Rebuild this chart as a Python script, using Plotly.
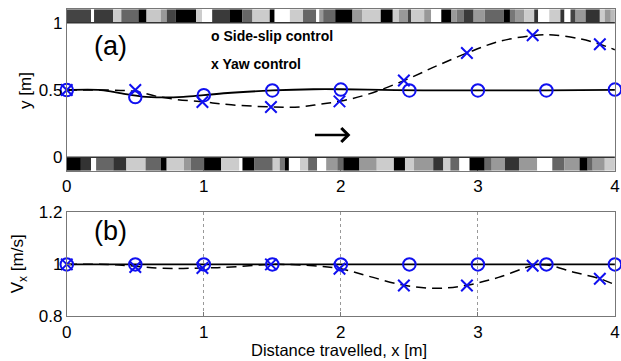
import plotly.graph_objects as go

# ---------------- data ----------------
# side-slip control (circles, solid)
ss_mark_x = [0, 0.5, 1.0, 1.5, 2.0, 2.5, 3.0, 3.5, 4.0]
ss_mark_y = [0.5, 0.448, 0.462, 0.497, 0.504, 0.497, 0.497, 0.497, 0.504]
ss_mark_vx = [1.0, 1.0, 1.0, 1.0, 1.0, 1.0, 1.0, 1.0, 1.0]
ss_line_x = [0, 0.25, 0.4, 0.55, 0.7, 0.85, 1.0, 1.2, 1.5, 1.8, 2.0, 2.3, 2.6, 3.0, 3.5, 4.0]
ss_line_y = [0.5, 0.5, 0.475, 0.452, 0.446, 0.45, 0.462, 0.48, 0.497, 0.506, 0.506, 0.501, 0.498, 0.497, 0.498, 0.502]
ss_line_vx_x = [0, 4.0]
ss_line_vx = [1.0, 1.0]

# yaw control (crosses, dashed)
yaw_mark_x = [0, 0.5, 0.99, 1.49, 1.99, 2.46, 2.92, 3.40, 3.89]
yaw_mark_y = [0.5, 0.5, 0.411, 0.374, 0.416, 0.571, 0.775, 0.907, 0.84]
yaw_mark_vx = [1.0, 0.99, 0.986, 1.0, 0.983, 0.919, 0.919, 0.995, 0.945]
yaw_line_x = [0, 0.3, 0.5, 0.65, 0.8, 1.0, 1.2, 1.5, 1.7, 1.85, 2.0, 2.2, 2.46, 2.7, 2.92, 3.15, 3.4, 3.55, 3.75, 3.89, 4.0]
yaw_line_y = [0.5, 0.5, 0.49, 0.455, 0.43, 0.412, 0.39, 0.375, 0.375, 0.395, 0.418, 0.47, 0.57, 0.68, 0.775, 0.86, 0.905, 0.91, 0.88, 0.84, 0.8]
yaw_vx_x = [0, 0.3, 0.5, 0.7, 1.0, 1.2, 1.5, 1.8, 2.0, 2.2, 2.46, 2.7, 2.92, 3.15, 3.4, 3.5, 3.7, 3.89, 4.0]
yaw_vx = [1.0, 1.0, 0.993, 0.985, 0.986, 0.99, 1.0, 0.995, 0.983, 0.955, 0.92, 0.908, 0.92, 0.95, 0.995, 0.998, 0.97, 0.945, 0.922]

# grey texture bands (segment edges in metres, grey levels)
top_edges = [0, 0.177, 0.199, 0.339, 0.398, 0.523, 0.582, 0.685, 0.729, 0.796, 0.943, 0.987, 1.061,
             1.186, 1.282, 1.355, 1.481, 1.517, 1.628, 1.724, 1.820, 1.842, 1.871, 1.959, 2.085,
             2.158, 2.291, 2.379, 2.424, 2.490, 2.512, 2.608, 2.659, 2.733, 2.807, 2.844, 2.895,
             2.969, 3.050, 3.190, 3.234, 3.271, 3.337, 3.411, 3.440, 3.521, 3.602, 3.632, 3.676,
             3.713, 3.786, 3.890, 3.926, 3.970, 4.0]
top_greys = ["#444", "#fff", "#3a3a3a", "#ccc", "#666", "#000", "#c8c8c8", "#999", "#444", "#000",
             "#ccc", "#fff", "#3a3a3a", "#000", "#666", "#ccc", "#000", "#fff", "#ccc", "#666",
             "#fff", "#999", "#666", "#000", "#999", "#ccc", "#000", "#ccc", "#999", "#444",
             "#ccc", "#999", "#fff", "#000", "#999", "#777", "#3a3a3a", "#999", "#666", "#000",
             "#777", "#999", "#ccc", "#333", "#fff", "#ccc", "#333", "#fff", "#444", "#999",
             "#333", "#ccc", "#999", "#bbb"]
bot_edges = [0, 0.103, 0.177, 0.214, 0.339, 0.435, 0.575, 0.685, 0.729, 0.855, 0.906, 1.002, 1.127,
             1.260, 1.282, 1.370, 1.503, 1.554, 1.591, 1.621, 1.702, 1.761, 1.827, 1.893, 1.974,
             2.018, 2.136, 2.262, 2.387, 2.468, 2.534, 2.674, 2.748, 2.799, 2.865, 2.939, 3.050,
             3.101, 3.197, 3.300, 3.433, 3.543, 3.632, 3.742, 3.801, 3.838, 3.926, 4.0]
bot_greys = ["#000", "#333", "#fff", "#666", "#333", "#ccc", "#666", "#000", "#ccc", "#999",
             "#666", "#000", "#ccc", "#fff", "#000", "#666", "#ccc", "#777", "#000", "#fff",
             "#ccc", "#666", "#fff", "#999", "#666", "#000", "#999", "#ccc", "#000", "#ccc",
             "#999", "#333", "#ccc", "#666", "#fff", "#000", "#666", "#999", "#333", "#999",
             "#fff", "#666", "#999", "#000", "#666", "#999", "#ccc"]

x_ticks = [0, 1, 2, 3, 4]
y_ticks_top = [0, 0.5, 1]
y_ticks_bot = [0.8, 1, 1.2]

# ---------------- figure ----------------
# The page shows the figure behind an 8 px page margin and is then fitted to the
# 621x361 window; the figure is sized so that the fitted picture fills the window.
PAD = 8
KX, KY = 621 / 637, 361 / 377
W, H = 637 - PAD, 377 - PAD


def px(xp):   # target picture pixel -> paper x
    return (xp / KX - PAD) / W


def py(yp):   # target picture pixel -> paper y
    return 1 - (yp / KY - PAD) / H


BLUE = "#1010f0"
FONT = "Liberation Sans, Arial, sans-serif"
TF = 17
DASH = "10px,6px"

fig = go.Figure()

# panel (a)
fig.add_trace(go.Scatter(x=ss_line_x, y=ss_line_y, mode="lines", line=dict(color="black", width=1.8, shape="spline"),
                         xaxis="x", yaxis="y", showlegend=False))
fig.add_trace(go.Scatter(x=yaw_line_x, y=yaw_line_y, mode="lines",
                         line=dict(color="black", width=1.5, dash=DASH, shape="spline"),
                         xaxis="x", yaxis="y", showlegend=False))
fig.add_trace(go.Scatter(x=ss_mark_x, y=ss_mark_y, mode="markers",
                         marker=dict(symbol="circle-open", size=12.5, color=BLUE, line=dict(width=2, color=BLUE)),
                         xaxis="x", yaxis="y", showlegend=False, cliponaxis=False))
fig.add_trace(go.Scatter(x=yaw_mark_x, y=yaw_mark_y, mode="markers",
                         marker=dict(symbol="x-thin-open", size=11.5, color=BLUE, line=dict(width=2, color=BLUE)),
                         xaxis="x", yaxis="y", showlegend=False, cliponaxis=False))

# panel (b)
fig.add_trace(go.Scatter(x=ss_line_vx_x, y=ss_line_vx, mode="lines", line=dict(color="black", width=1.8),
                         xaxis="x2", yaxis="y2", showlegend=False))
fig.add_trace(go.Scatter(x=yaw_vx_x, y=yaw_vx, mode="lines",
                         line=dict(color="black", width=1.5, dash=DASH, shape="spline"),
                         xaxis="x2", yaxis="y2", showlegend=False))
fig.add_trace(go.Scatter(x=ss_mark_x, y=ss_mark_vx, mode="markers",
                         marker=dict(symbol="circle-open", size=12.5, color=BLUE, line=dict(width=2, color=BLUE)),
                         xaxis="x2", yaxis="y2", showlegend=False, cliponaxis=False))
fig.add_trace(go.Scatter(x=yaw_mark_x, y=yaw_mark_vx, mode="markers",
                         marker=dict(symbol="x-thin-open", size=11.5, color=BLUE, line=dict(width=2, color=BLUE)),
                         xaxis="x2", yaxis="y2", showlegend=False, cliponaxis=False))

shapes = []
for i, g in enumerate(top_greys):
    shapes.append(dict(type="rect", xref="x", yref="y", x0=top_edges[i], x1=top_edges[i + 1],
                       y0=1.0, y1=1.1, fillcolor=g, line=dict(width=0), layer="above"))
for i, g in enumerate(bot_greys):
    shapes.append(dict(type="rect", xref="x", yref="y", x0=bot_edges[i], x1=bot_edges[i + 1],
                       y0=-0.1, y1=0.0, fillcolor=g, line=dict(width=0), layer="above"))
shapes.append(dict(type="line", xref="x", yref="y", x0=0, x1=4, y0=1.0, y1=1.0,
                   line=dict(color="#333", width=1.5), layer="above"))
shapes.append(dict(type="line", xref="x", yref="y", x0=0, x1=4, y0=0.0, y1=0.0,
                   line=dict(color="#333", width=1.5), layer="above"))

annotations = [
    dict(x=0.32, y=0.83, xref="x", yref="y", text="(a)", showarrow=False,
         xanchor="center", yanchor="middle", font=dict(size=27, family=FONT, color="black")),
    dict(x=0.32, y=1.128, xref="x2", yref="y2", text="(b)", showarrow=False,
         xanchor="center", yanchor="middle", font=dict(size=27, family=FONT, color="black")),
    dict(x=1.04, y=0.905, xref="x", yref="y", text="<b>o Side-slip control</b>", showarrow=False,
         xanchor="left", yanchor="middle", font=dict(size=14, family=FONT, color="black")),
    dict(x=1.04, y=0.695, xref="x", yref="y", text="<b>x Yaw control</b>", showarrow=False,
         xanchor="left", yanchor="middle", font=dict(size=14, family=FONT, color="black")),
    dict(x=2.07, y=0.166, ax=1.8, ay=0.166, xref="x", yref="y", axref="x", ayref="y", text="",
         showarrow=True, arrowhead=4, arrowsize=1.0, arrowwidth=2.7, arrowcolor="black"),
    # axis titles
    dict(x=px(28), y=py(90), xref="paper", yref="paper", text="y [m]", textangle=-90, showarrow=False,
         xanchor="center", yanchor="middle", font=dict(size=TF, family=FONT, color="black")),
    dict(x=px(22), y=py(265), xref="paper", yref="paper", text="V<sub>x</sub> [m/s]", textangle=-90,
         showarrow=False, xanchor="center", yanchor="middle", font=dict(size=TF, family=FONT, color="black")),
    dict(x=px(339), y=py(352), xref="paper", yref="paper", text="Distance travelled, x [m]",
         showarrow=False, xanchor="center", yanchor="middle", font=dict(size=16.5, family=FONT, color="black")),
]

axis_common = dict(range=[0, 4], tickvals=x_ticks, showgrid=False, zeroline=False,
                   showline=True, linecolor="#777", linewidth=1, mirror=True,
                   ticks="inside", ticklen=4, tickcolor="#777",
                   tickfont=dict(size=TF, family=FONT, color="black"))

fig.update_layout(
    width=W, height=H,
    margin=dict(l=0, r=0, t=0, b=0),
    paper_bgcolor="white", plot_bgcolor="white",
    font=dict(family=FONT, color="black"),
    xaxis=dict(domain=[px(69), px(612)], anchor="y", **axis_common),
    yaxis=dict(domain=[py(171), py(8)], anchor="x", range=[-0.1, 1.1], tickvals=y_ticks_top,
               ticktext=["0", "0.5", "1"], showgrid=False, zeroline=False, showline=True, linecolor="#777",
               linewidth=1, mirror=True, ticks="", tickfont=dict(size=TF, family=FONT, color="black")),
    xaxis2=dict(domain=[px(69), px(612)], anchor="y2",
                **{**axis_common, "showgrid": True, "gridcolor": "#999", "griddash": "dot", "gridwidth": 1}),
    yaxis2=dict(domain=[py(318), py(213)], anchor="x2", range=[0.8, 1.2], tickvals=y_ticks_bot,
                ticktext=["0.8", "1", "1.2"], showgrid=False, zeroline=False, showline=True, linecolor="#777",
                linewidth=1, mirror=True, ticks="inside", ticklen=4, tickcolor="#777",
                tickfont=dict(size=TF, family=FONT, color="black")),
    shapes=shapes,
    annotations=annotations,
)

fig.write_html("out.html")
